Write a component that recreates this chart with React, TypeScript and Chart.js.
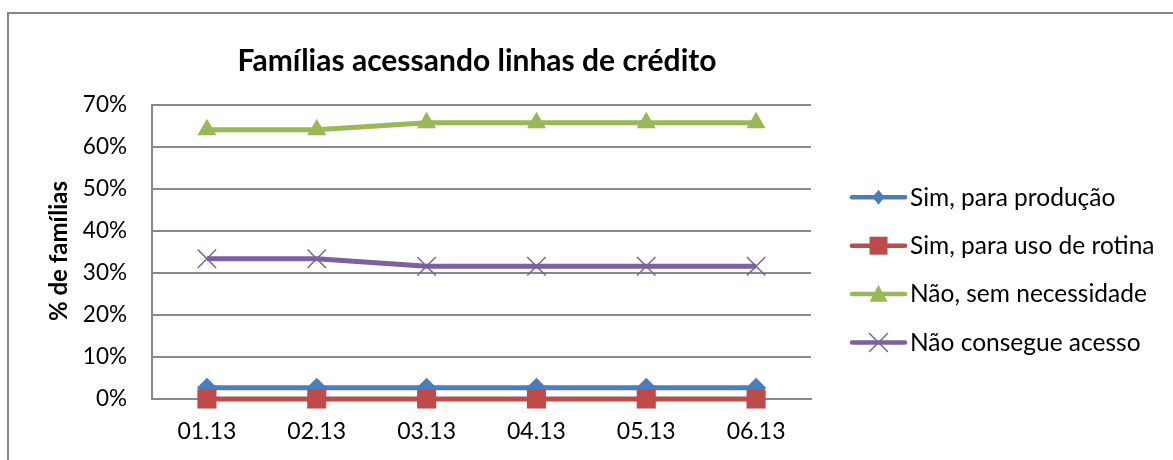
import React, { useEffect, useRef } from 'react';
import { Chart, registerables } from 'chart.js';

Chart.register(...registerables);

const categories = ['01.13', '02.13', '03.13', '04.13', '05.13', '06.13'];
const seriesNames = ['Sim, para produção', 'Sim, para uso de rotina', 'Não, sem necessidade', 'Não consegue acesso'];
const simProducao = [2.7, 2.7, 2.7, 2.7, 2.7, 2.7];
const simRotina = [0, 0, 0, 0, 0, 0];
const naoSemNecessidade = [64.1, 64.1, 65.8, 65.8, 65.8, 65.8];
const naoConsegue = [33.4, 33.4, 31.6, 31.6, 31.6, 31.6];
const yMin = 0;
const yMax = 70;
const yStep = 10;
const chartTitle = 'Famílias acessando linhas de crédito';
const yAxisTitle = '% de famílias';

const COLORS = ['#4A7EBB', '#BE4B48', '#98B954', '#7D60A0'];
const STYLES = ['rectRot', 'rect', 'triangle', 'crossRot'];
const RADII = [10, 13.5, 11, 13];
const FONT = 'Lato, "Open Sans", sans-serif';

function drawMarker(ctx: CanvasRenderingContext2D, style: string, x: number, y: number, s: number, color: string) {
  ctx.save();
  ctx.fillStyle = color;
  ctx.strokeStyle = color;
  ctx.beginPath();
  if (style === 'rectRot') {
    ctx.moveTo(x - s * 0.8, y);
    ctx.lineTo(x, y - s);
    ctx.lineTo(x + s * 0.8, y);
    ctx.lineTo(x, y + s);
    ctx.closePath();
    ctx.fill();
  } else if (style === 'rect') {
    ctx.rect(x - s, y - s, 2 * s, 2 * s);
    ctx.fill();
  } else if (style === 'triangle') {
    ctx.moveTo(x, y - s);
    ctx.lineTo(x + s, y + s * 0.85);
    ctx.lineTo(x - s, y + s * 0.85);
    ctx.closePath();
    ctx.fill();
  } else {
    ctx.lineWidth = 1.5;
    ctx.moveTo(x - s, y - s);
    ctx.lineTo(x + s, y + s);
    ctx.moveTo(x + s, y - s);
    ctx.lineTo(x - s, y + s);
    ctx.stroke();
  }
  ctx.restore();
}

const decorPlugin = {
  id: 'decor',
  afterDraw(chart: any) {
    const ctx: CanvasRenderingContext2D = chart.ctx;
    ctx.save();
    // title
    ctx.fillStyle = '#000';
    ctx.font = `bold 30px ${FONT}`;
    ctx.textAlign = 'center';
    ctx.textBaseline = 'alphabetic';
    ctx.fillText(chartTitle, 477, 71);
    // y axis title
    ctx.save();
    ctx.translate(66.5, 251);
    ctx.rotate(-Math.PI / 2);
    ctx.font = `bold 24px ${FONT}`;
    ctx.textAlign = 'center';
    ctx.fillText(yAxisTitle, 0, 0);
    ctx.restore();
    // legend
    chart.data.datasets.forEach((ds: any, i: number) => {
      const base = 205.6 + i * 48.4;
      const cy = base - 8.3;
      ctx.strokeStyle = COLORS[i];
      ctx.lineWidth = 4.5;
      ctx.lineCap = 'round';
      ctx.beginPath();
      ctx.moveTo(852, cy);
      ctx.lineTo(905, cy);
      ctx.stroke();
      const sizes = [7.5, 9, 9, 9];
      drawMarker(ctx, STYLES[i], 878.5, cy, sizes[i], COLORS[i]);
      ctx.fillStyle = '#000';
      ctx.font = `24.5px ${FONT}`;
      ctx.textAlign = 'left';
      ctx.fillText(ds.label, 910, base);
    });
    ctx.restore();
  },
};

export default function App() {
  const ref = useRef<HTMLCanvasElement | null>(null);
  useEffect(() => {
    if (!ref.current) return;
    const seriesData = [simProducao, simRotina, naoSemNecessidade, naoConsegue];
    const chart = new Chart(ref.current, {
      type: 'line',
      data: {
        labels: categories,
        datasets: seriesData.map((d, i) => ({
          label: seriesNames[i],
          data: d,
          borderColor: COLORS[i],
          backgroundColor: COLORS[i],
          borderWidth: 5,
          pointStyle: STYLES[i] as any,
          pointRadius: RADII[i],
          pointBorderWidth: i === 3 ? 1.5 : 0,
          pointBorderColor: COLORS[i],
          pointBackgroundColor: COLORS[i],
          tension: 0,
          clip: false as any,
          order: 4 - i,
        })),
      },
      options: {
        responsive: false,
        animation: false,
        devicePixelRatio: 1,
        layout: { padding: { left: 0, right: 362, top: 105, bottom: 0 } },
        plugins: { legend: { display: false }, title: { display: false }, tooltip: { enabled: false } },
        scales: {
          x: {
            type: 'category',
            offset: true,
            grid: { display: false, drawTicks: false },
            border: { display: true, color: '#898989', width: 2 },
            ticks: { color: '#000', font: { family: FONT, size: 23 }, padding: 19, maxRotation: 0 },
            afterFit: (s: any) => { s.height = 61; },
          },
          y: {
            min: yMin,
            max: yMax,
            grid: { color: '#898989', lineWidth: 2, drawTicks: false },
            border: { display: true, color: '#898989', width: 2 },
            ticks: {
              stepSize: yStep,
              color: '#000',
              font: { family: FONT, size: 22.5 },
              padding: 25,
              callback: (v: any) => `${v}%`,
            },
            afterFit: (s: any) => { s.width = 152; },
          },
        },
      },
      plugins: [decorPlugin],
    });
    return () => chart.destroy();
  }, []);

  return (
    <div style={{ position: 'fixed', left: 0, top: 0, width: 1173, height: 460, overflow: 'hidden', background: '#fff' }}>
      <div style={{ position: 'absolute', left: 7, top: 12, width: 1400, height: 700, border: '2px solid #888', boxSizing: 'border-box' }} />
      <canvas ref={ref} width={1173} height={460} style={{ position: 'absolute', left: 0, top: 0, display: 'block' }} />
    </div>
  );
}
